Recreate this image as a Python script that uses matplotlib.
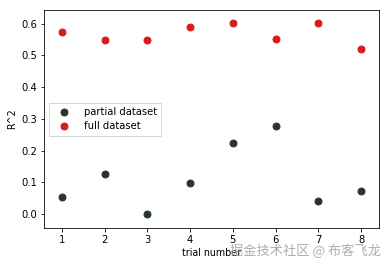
import matplotlib
matplotlib.use("Agg")
import matplotlib.pyplot as plt

plt.rcParams['font.family'] = ['DejaVu Sans', 'Noto Sans CJK SC']

trials = [1, 2, 3, 4, 5, 6, 7, 8]
partial_r2 = [0.053, 0.126, 0.0, 0.097, 0.225, 0.279, 0.040, 0.072]
full_r2 = [0.575, 0.550, 0.550, 0.588, 0.603, 0.552, 0.603, 0.521]
yticks = [0.0, 0.1, 0.2, 0.3, 0.4, 0.5, 0.6]

dpi = 72
fig = plt.figure(figsize=(389 / dpi, 266 / dpi), dpi=dpi)
ax = fig.add_axes([44 / 389, 1 - 228 / 266, (379 - 44) / 389, (228 - 10) / 266])

ax.scatter(trials, partial_r2, s=48, color='#283828', label='partial dataset')
ax.scatter(trials, full_r2, s=48, color='#d81c1c', label='full dataset')

ax.set_xlim(0.58, 8.42)
ax.set_ylim(-0.044, 0.643)
ax.set_xticks(trials)
ax.set_yticks(yticks)
ax.tick_params(labelsize=10)
ax.set_xlabel('trial number', fontsize=9.5, labelpad=3)
ax.set_ylabel('R^2', fontsize=9.5)

ax.legend(loc='center left', fontsize=10, frameon=True, edgecolor='#cccccc',
          fancybox=False, handletextpad=1.0, borderpad=0.45, labelspacing=0.4,
          bbox_to_anchor=(0.0, 0.5))

fig.text(381 / 389, 1 - 251 / 266, '掘金技术社区 @ 布客飞龙', ha='right', va='center',
         fontsize=13.2, color='#999999', alpha=0.8,
         family=['Noto Sans CJK SC', 'DejaVu Sans'])

fig.savefig('out.png', dpi=dpi)
